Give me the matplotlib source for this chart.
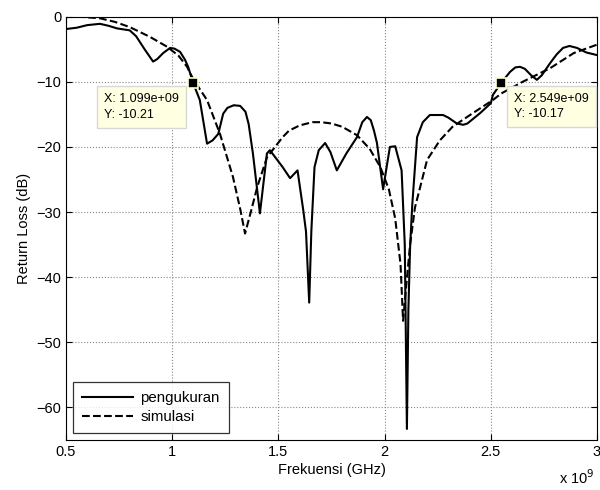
import numpy as np
import matplotlib
matplotlib.use('Agg')
import matplotlib.pyplot as plt

plt.rcParams['font.family'] = ['Liberation Sans', 'DejaVu Sans']
plt.rcParams['font.size'] = 10.5

# measured return loss (GHz, dB)
f_meas = [0.50, 0.55, 0.60, 0.66, 0.70, 0.74, 0.80, 0.83, 0.87, 0.91, 0.93, 0.957,
          0.99, 1.01, 1.037, 1.06, 1.075, 1.099, 1.13, 1.164, 1.19, 1.217, 1.24, 1.26,
          1.29, 1.32, 1.345, 1.36, 1.38, 1.413, 1.446, 1.46, 1.52, 1.555, 1.59, 1.617,
          1.63, 1.645, 1.655, 1.67, 1.69, 1.72, 1.745, 1.775, 1.82, 1.87, 1.895, 1.917,
          1.935, 1.95, 1.964, 1.993, 2.01, 2.025, 2.05, 2.08, 2.095, 2.105, 2.112, 2.12,
          2.13, 2.153, 2.18, 2.213, 2.275, 2.30, 2.34, 2.37, 2.39, 2.45, 2.5, 2.51,
          2.549, 2.59, 2.615, 2.637, 2.66, 2.69, 2.717, 2.74, 2.78, 2.81, 2.84, 2.87,
          2.906, 2.95, 3.0]
rl_meas = [-1.9, -1.7, -1.3, -1.1, -1.4, -1.8, -2.1, -3.0, -5.0, -6.9, -6.5, -5.6,
           -4.8, -4.9, -5.4, -6.6, -7.7, -10.21, -12.8, -19.5, -19.0, -18.0, -14.9, -14.0,
           -13.6, -13.7, -14.6, -16.5, -21.0, -30.2, -21.0, -20.5, -23.1, -24.8, -23.6, -29.7,
           -33.0, -43.9, -33.0, -23.1, -20.5, -19.4, -20.8, -23.6, -21.0, -18.5, -16.2, -15.4,
           -15.9, -17.5, -19.4, -26.5, -23.0, -20.0, -19.9, -23.6, -35.0, -63.3, -45.0, -35.4,
           -29.0, -18.5, -16.2, -15.1, -15.1, -15.5, -16.4, -16.6, -16.4, -14.8, -13.3, -12.0,
           -10.17, -8.5, -7.8, -7.7, -8.0, -9.0, -9.7, -9.0, -7.1, -5.8, -4.8, -4.5,
           -4.8, -5.5, -5.9]

# simulated return loss (GHz, dB)
f_sim = [0.50, 0.58, 0.66, 0.73, 0.80, 0.895, 0.975, 1.03, 1.07, 1.099, 1.164, 1.225,
         1.286, 1.32, 1.343, 1.37, 1.40, 1.446, 1.52, 1.55, 1.60, 1.66, 1.70, 1.75,
         1.80, 1.87, 1.93, 1.98, 2.02, 2.05, 2.075, 2.087, 2.10, 2.12, 2.143, 2.2,
         2.26, 2.32, 2.416, 2.51, 2.549, 2.65, 2.78, 2.89, 3.0]
rl_sim = [0.0, -0.05, -0.25, -0.8, -1.6, -3.1, -4.6, -6.0, -7.7, -9.6, -12.8, -18.0,
          -24.6, -29.5, -33.3, -30.0, -26.2, -21.6, -18.5, -17.5, -16.7, -16.2, -16.2, -16.4,
          -16.9, -18.2, -20.3, -23.1, -26.5, -31.0, -38.0, -46.7, -42.0, -35.0, -29.3, -22.0,
          -19.0, -16.9, -14.8, -12.8, -11.8, -10.0, -7.9, -5.6, -4.3]

tips = [(1.099e9, -10.21), (2.549e9, -10.17)]

fig = plt.figure(figsize=(6, 4.9), dpi=100)
ax = fig.add_axes([0.11, 0.102, 0.885, 0.864])

ax.plot(np.array(f_meas) * 1e9, rl_meas, 'k-', lw=1.5, label='pengukuran')
ax.plot(np.array(f_sim) * 1e9, rl_sim, 'k--', lw=1.5, label='simulasi')

for fx, fy in tips:
    ax.plot(fx, fy, 's', color='k', mec='#ffffcc', mew=1.2, ms=7, zorder=6)
    ax.annotate('X: {:.3e}\nY: {:.2f}'.format(fx, fy),
                xy=(fx, fy), xytext=(-89 if fx < 2e9 else 13, -10),
                textcoords='offset pixels', ha='left', va='top', fontsize=9,
                linespacing=1.4,
                bbox=dict(boxstyle='square,pad=0.55', fc='#ffffe1', ec='#d8d8d8', lw=1),
                zorder=7)

ax.set_xlim(0.5e9, 3e9)
ax.set_ylim(-65, 0)
ax.set_xticks(np.arange(0.5e9, 3.01e9, 0.5e9))
ax.set_xticklabels(['0.5', '1', '1.5', '2', '2.5', '3'])
ax.set_yticks(np.arange(-60, 1, 10))
ax.tick_params(direction='in', length=4, top=True, right=True, labelsize=10.5)
ax.grid(True, color='#888888', ls=':', lw=0.8)
ax.set_xlabel('Frekuensi (GHz)', fontsize=10.5, labelpad=3)
ax.set_ylabel('Return Loss (dB)', fontsize=10.5, labelpad=4)
fig.text(0.932, 0.006, r'x 10$^9$', fontsize=10.5, ha='left', va='bottom')

leg = ax.legend(loc='lower left', fontsize=10.8, frameon=True, fancybox=False,
                edgecolor='k', borderaxespad=0.45, handlelength=3.4,
                borderpad=0.6, labelspacing=0.35, handletextpad=0.5)
leg.get_frame().set_linewidth(0.9)

fig.savefig('out.png', dpi=100)
